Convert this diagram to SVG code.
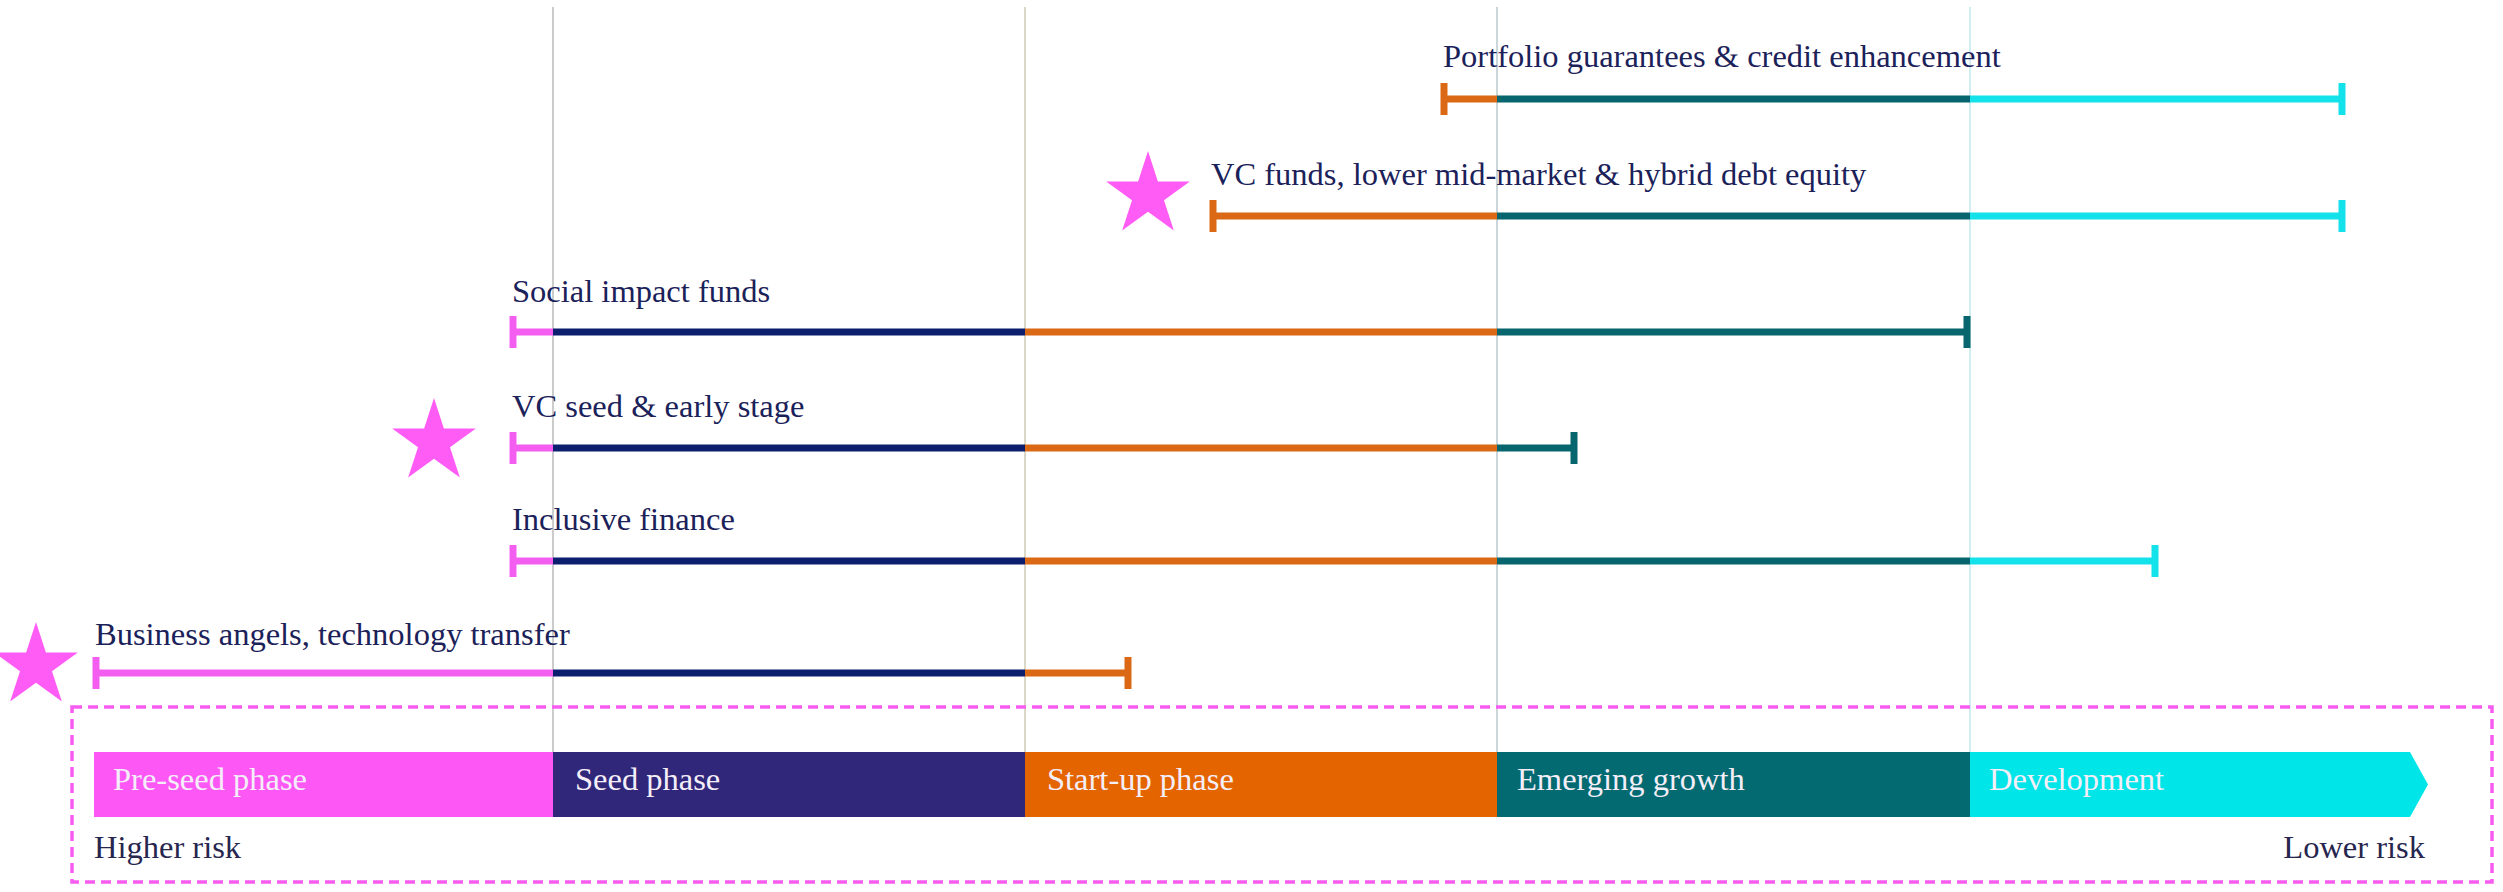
<svg xmlns="http://www.w3.org/2000/svg" xmlns:xlink="http://www.w3.org/1999/xlink" width="2503" height="892" viewBox="0 0 2503 892">
  <style>
    .lbl { font-family: "Liberation Serif", "Times New Roman", serif; font-size: 32.5px; fill: #1b2159; }
    .phase { font-family: "Liberation Serif", "Times New Roman", serif; font-size: 32.5px; fill: #f4eef8; }
    .risk { font-family: "Liberation Serif", "Times New Roman", serif; font-size: 32.5px; fill: #27264f; }
    .seg { stroke-width: 7; fill: none; }
    .cap { stroke-width: 7; fill: none; }
    .pink { stroke: #f45ef0; }
    .navy { stroke: #0b1f6e; }
    .orange { stroke: #da6814; }
    .teal { stroke: #06656d; }
    .cyan { stroke: #13e2ea; }
    .divider { stroke-width: 2; fill: none; }
    .star { fill: #ff5cf6; }
  </style>
  <defs>
    <path id="star" d="M0,-44 L9.88,-13.6 L41.85,-13.6 L15.99,5.19 L25.86,35.6 L0,16.81 L-25.86,35.6 L-15.99,5.19 L-41.85,-13.6 L-9.88,-13.6 Z"/>
  </defs>
  <rect width="2503" height="892" fill="#ffffff"/>

  <!-- stage dividers -->
  <g id="dividers">
    <line class="divider" x1="553" y1="7" x2="553" y2="752" stroke="#cccccc"/>
    <line class="divider" x1="1025" y1="7" x2="1025" y2="752" stroke="#dcd8c8"/>
    <line class="divider" x1="1497" y1="7" x2="1497" y2="752" stroke="#cad6da"/>
    <line class="divider" x1="1970" y1="7" x2="1970" y2="752" stroke="#d2eef2"/>
  </g>

  <!-- phase axis -->
  <g id="phase-bar">
    <rect x="94" y="752" width="459" height="65" fill="#fd58f6"/>
    <rect x="553" y="752" width="472" height="65" fill="#30267a"/>
    <rect x="1025" y="752" width="472" height="65" fill="#e46400"/>
    <rect x="1497" y="752" width="473" height="65" fill="#036a72"/>
    <polygon points="1970,752 2410,752 2428,784.5 2410,817 1970,817" fill="#00e5e8"/>
    <text class="phase" x="113" y="790">Pre-seed phase</text>
    <text class="phase" x="575" y="790">Seed phase</text>
    <text class="phase" x="1047" y="790">Start-up phase</text>
    <text class="phase" x="1517" y="790">Emerging growth</text>
    <text class="phase" x="1989" y="790">Development</text>
  </g>
  <g id="risk-labels">
    <text class="risk" x="94" y="858">Higher risk</text>
    <text class="risk" x="2425" y="858" text-anchor="end">Lower risk</text>
  </g>
  <rect id="highlight-box" x="72" y="707" width="2420" height="175" fill="none" stroke="#f75cf0" stroke-width="3.5" stroke-dasharray="10 6"/>

  <!-- instrument ranges -->
  <g id="portfolio-guarantees">
    <text class="lbl" x="1443" y="67">Portfolio guarantees &amp; credit enhancement</text>
    <line class="seg orange" x1="1444" y1="99" x2="1497" y2="99"/>
    <line class="seg teal" x1="1497" y1="99" x2="1970" y2="99"/>
    <line class="seg cyan" x1="1970" y1="99" x2="2342" y2="99"/>
    <line class="cap orange" x1="1444" y1="83" x2="1444" y2="115"/>
    <line class="cap cyan" x1="2342" y1="83" x2="2342" y2="115"/>
  </g>
  <g id="vc-funds">
    <use href="#star" class="star" x="1148" y="195"/>
    <text class="lbl" x="1211" y="185">VC funds, lower mid-market &amp; hybrid debt equity</text>
    <line class="seg orange" x1="1213" y1="216" x2="1497" y2="216"/>
    <line class="seg teal" x1="1497" y1="216" x2="1970" y2="216"/>
    <line class="seg cyan" x1="1970" y1="216" x2="2342" y2="216"/>
    <line class="cap orange" x1="1213" y1="200" x2="1213" y2="232"/>
    <line class="cap cyan" x1="2342" y1="200" x2="2342" y2="232"/>
  </g>
  <g id="social-impact">
    <text class="lbl" x="512" y="302">Social impact funds</text>
    <line class="seg pink" x1="513" y1="332" x2="553" y2="332"/>
    <line class="seg navy" x1="553" y1="332" x2="1025" y2="332"/>
    <line class="seg orange" x1="1025" y1="332" x2="1497" y2="332"/>
    <line class="seg teal" x1="1497" y1="332" x2="1967" y2="332"/>
    <line class="cap pink" x1="513" y1="316" x2="513" y2="348"/>
    <line class="cap teal" x1="1967" y1="316" x2="1967" y2="348"/>
  </g>
  <g id="vc-seed">
    <use href="#star" class="star" x="434" y="442"/>
    <text class="lbl" x="512" y="417">VC seed &amp; early stage</text>
    <line class="seg pink" x1="513" y1="448" x2="553" y2="448"/>
    <line class="seg navy" x1="553" y1="448" x2="1025" y2="448"/>
    <line class="seg orange" x1="1025" y1="448" x2="1497" y2="448"/>
    <line class="seg teal" x1="1497" y1="448" x2="1574" y2="448"/>
    <line class="cap pink" x1="513" y1="432" x2="513" y2="464"/>
    <line class="cap teal" x1="1574" y1="432" x2="1574" y2="464"/>
  </g>
  <g id="inclusive-finance">
    <text class="lbl" x="512" y="530">Inclusive finance</text>
    <line class="seg pink" x1="513" y1="561" x2="553" y2="561"/>
    <line class="seg navy" x1="553" y1="561" x2="1025" y2="561"/>
    <line class="seg orange" x1="1025" y1="561" x2="1497" y2="561"/>
    <line class="seg teal" x1="1497" y1="561" x2="1970" y2="561"/>
    <line class="seg cyan" x1="1970" y1="561" x2="2155" y2="561"/>
    <line class="cap pink" x1="513" y1="545" x2="513" y2="577"/>
    <line class="cap cyan" x1="2155" y1="545" x2="2155" y2="577"/>
  </g>
  <g id="business-angels">
    <use href="#star" class="star" x="36" y="666"/>
    <text class="lbl" x="95" y="645">Business angels, technology transfer</text>
    <line class="seg pink" x1="96" y1="673" x2="553" y2="673"/>
    <line class="seg navy" x1="553" y1="673" x2="1025" y2="673"/>
    <line class="seg orange" x1="1025" y1="673" x2="1128" y2="673"/>
    <line class="cap pink" x1="96" y1="657" x2="96" y2="689"/>
    <line class="cap orange" x1="1128" y1="657" x2="1128" y2="689"/>
  </g>
</svg>
